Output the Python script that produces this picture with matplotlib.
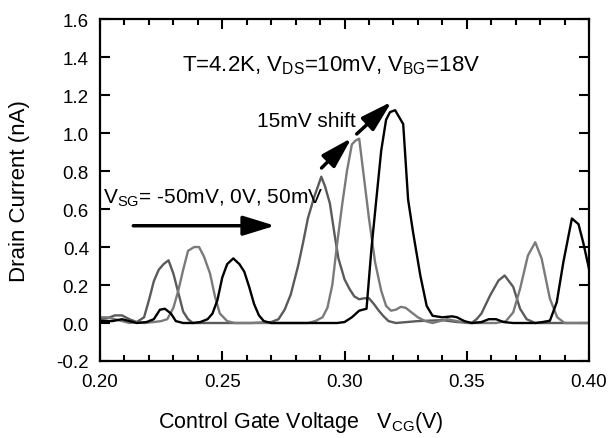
import numpy as np
from matplotlib import pyplot as plt

plt.rcParams['font.family'] = ['Liberation Sans', 'DejaVu Sans']
plt.rcParams['mathtext.fontset'] = 'custom'
plt.rcParams['mathtext.rm'] = 'Liberation Sans'
plt.rcParams['mathtext.it'] = 'Liberation Sans:italic'

# V_SG = -50mV (dark gray)
vcg_1 = [0.200, 0.203, 0.206, 0.209, 0.212, 0.215, 0.218, 0.220, 0.222, 0.224,
         0.226, 0.228, 0.230, 0.232, 0.234, 0.236, 0.238, 0.250, 0.262, 0.270,
         0.273, 0.2755, 0.278, 0.281, 0.283, 0.285, 0.2875, 0.2905, 0.292, 0.294,
         0.296, 0.2975, 0.300, 0.302, 0.304, 0.306, 0.308, 0.310, 0.312, 0.314,
         0.316, 0.318, 0.321, 0.330, 0.340, 0.346, 0.352, 0.354, 0.356, 0.3595,
         0.363, 0.3655, 0.369, 0.3718, 0.3745, 0.378, 0.390, 0.400]
cur_1 = [0.02, 0.025, 0.04, 0.04, 0.02, 0.005, 0.03, 0.12, 0.22, 0.28,
         0.31, 0.33, 0.26, 0.16, 0.06, 0.02, 0.0, 0.0, 0.0, 0.005,
         0.02, 0.07, 0.15, 0.30, 0.42, 0.55, 0.66, 0.77, 0.72, 0.63,
         0.46, 0.34, 0.23, 0.18, 0.14, 0.125, 0.13, 0.13, 0.10, 0.065,
         0.035, 0.01, 0.0, 0.01, 0.015, 0.005, 0.0, 0.02, 0.05, 0.144,
         0.224, 0.25, 0.19, 0.075, 0.02, 0.0, 0.0, 0.0]

# V_SG = 0V (gray)
vcg_2 = [0.200, 0.203, 0.206, 0.209, 0.212, 0.215, 0.218, 0.222, 0.225, 0.2275,
         0.230, 0.232, 0.234, 0.236, 0.2385, 0.2405, 0.2425, 0.245, 0.247, 0.249,
         0.252, 0.255, 0.270, 0.285, 0.288, 0.291, 0.293, 0.295, 0.297, 0.299,
         0.301, 0.303, 0.3045, 0.306, 0.308, 0.310, 0.3125, 0.315, 0.317, 0.319,
         0.321, 0.323, 0.325, 0.327, 0.330, 0.333, 0.336, 0.342, 0.350, 0.362,
         0.366, 0.369, 0.3718, 0.375, 0.378, 0.3806, 0.384, 0.387, 0.390, 0.400]
cur_2 = [0.03, 0.03, 0.02, 0.01, 0.0, 0.005, 0.0, 0.005, 0.01, 0.02,
         0.08, 0.17, 0.28, 0.38, 0.40, 0.40, 0.35, 0.26, 0.14, 0.05,
         0.01, 0.0, 0.0, 0.0, 0.01, 0.03, 0.08, 0.20, 0.42, 0.62,
         0.80, 0.94, 0.96, 0.97, 0.76, 0.55, 0.32, 0.17, 0.09, 0.065,
         0.07, 0.085, 0.08, 0.06, 0.03, 0.01, 0.0, 0.02, 0.0, 0.0,
         0.01, 0.056, 0.18, 0.355, 0.425, 0.34, 0.128, 0.03, 0.0, 0.0]

# V_SG = 50mV (black)
vcg_3 = [0.200, 0.205, 0.209, 0.212, 0.215, 0.219, 0.222, 0.2245, 0.2265, 0.229,
         0.231, 0.234, 0.238, 0.241, 0.244, 0.246, 0.248, 0.250, 0.252, 0.2545,
         0.257, 0.259, 0.261, 0.263, 0.265, 0.267, 0.270, 0.297, 0.300, 0.303,
         0.306, 0.309, 0.311, 0.313, 0.315, 0.317, 0.3186, 0.3207, 0.324, 0.326,
         0.328, 0.331, 0.3336, 0.336, 0.340, 0.344, 0.346, 0.349, 0.352, 0.356,
         0.359, 0.362, 0.365, 0.369, 0.378, 0.381, 0.384, 0.3868, 0.3895, 0.393,
         0.3957, 0.3977, 0.400]
cur_3 = [0.01, 0.01, 0.02, 0.01, 0.0, 0.005, 0.02, 0.07, 0.075, 0.05,
         0.01, 0.0, 0.0, 0.005, 0.02, 0.05, 0.12, 0.24, 0.31, 0.34,
         0.31, 0.27, 0.19, 0.10, 0.04, 0.01, 0.0, 0.0, 0.005, 0.03,
         0.065, 0.075, 0.39, 0.65, 0.907, 1.07, 1.11, 1.12, 1.047, 0.65,
         0.48, 0.25, 0.09, 0.038, 0.03, 0.035, 0.03, 0.01, 0.0, 0.005,
         0.02, 0.02, 0.005, 0.0, 0.0, 0.005, 0.012, 0.109, 0.32, 0.55,
         0.52, 0.42, 0.285]

fig = plt.figure(figsize=(6.1, 4.39), dpi=100)
ax = fig.add_axes([0.164, 0.1754, 0.8016, 0.779])

ax.plot(vcg_1, cur_1, color='#5a5a5a', lw=1.7)
ax.plot(vcg_2, cur_2, color='#7a7a7a', lw=1.7)
ax.plot(vcg_3, cur_3, color='black', lw=1.7)

ax.set_xlim(0.20, 0.40)
ax.set_ylim(-0.2, 1.6)
ax.set_xticks(np.arange(0.20, 0.401, 0.05))
ax.set_xticks(np.arange(0.20, 0.401, 0.01), minor=True)
ax.set_yticks(np.arange(-0.2, 1.61, 0.2))
ax.set_xticklabels(['0.20', '0.25', '0.30', '0.35', '0.40'])
ax.set_yticklabels(['-0.2', '0.0', '0.2', '0.4', '0.6', '0.8', '1.0', '1.2', '1.4', '1.6'])
ax.tick_params(which='both', direction='in', top=True, right=True, width=1.5, labelsize=13.5)
ax.tick_params(which='major', length=7)
ax.tick_params(which='minor', length=4)
ax.tick_params(axis='x', pad=9)
ax.tick_params(axis='y', pad=8)
for s in ax.spines.values():
    s.set_linewidth(1.6)

ax.set_xlabel(r'Control Gate Voltage   V$_{\mathrm{CG}}$(V)', fontsize=15.5)
ax.xaxis.set_label_coords(0.411, -0.14)
ax.set_ylabel('Drain Current (nA)', fontsize=16)
ax.yaxis.set_label_coords(-0.143, 0.5)

ax.text(0.2335, 1.332, r'T=4.2K, V$_{\mathrm{DS}}$=10mV, V$_{\mathrm{BG}}$=18V', fontsize=16)
ax.text(0.2641, 1.038, '15mV shift', fontsize=15)
ax.text(0.2014, 0.635, r'V$_{\mathrm{SG}}$= -50mV, 0V, 50mV', fontsize=15)

# horizontal arrow
ax.annotate('', xy=(0.2716, 0.512), xytext=(0.2136, 0.512),
            arrowprops=dict(arrowstyle='-|>,head_length=1.95,head_width=0.6',
                            lw=2.5, color='black', shrinkA=0, shrinkB=0))
# dashed shift arrows
ax.annotate('', xy=(0.3029, 0.974), xytext=(0.2906, 0.816),
            arrowprops=dict(arrowstyle='-|>,head_length=1.9,head_width=0.55',
                            lw=2.5, color='black', shrinkA=0, shrinkB=0))
ax.annotate('', xy=(0.3193, 1.165), xytext=(0.305, 0.995),
            arrowprops=dict(arrowstyle='-|>,head_length=1.9,head_width=0.55',
                            lw=2.5, color='black', shrinkA=0, shrinkB=0))

fig.savefig('out.png', dpi=100)
